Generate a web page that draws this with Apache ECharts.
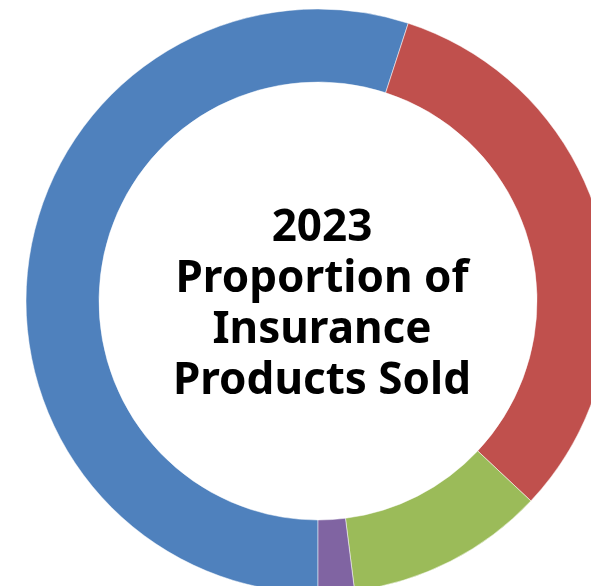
<!DOCTYPE html>
<html>
<head>
<meta charset="utf-8">
<script src="https://cdn.jsdelivr.net/npm/echarts@6/dist/echarts.min.js"></script>
<style>
  html, body { margin: 0; padding: 0; background: #fff; }
  #chart { width: 591px; height: 586px; }
</style>
</head>
<body>
<div id="chart"></div>
<script>
const categories = ["Life", "Health", "Property", "Other"];
const shares = [55, 32, 11, 2];
const colors = ["#4F81BD", "#C0504D", "#9BBB59", "#8064A2"];
const titleLines = ["2023", "Proportion of", "Insurance", "Products Sold"];

var chart = echarts.init(document.getElementById("chart"));
const option = {
  animation: false,
  title: {
    text: titleLines.join("\n"),
    left: 317,
    top: 300,
    textAlign: "center",
    textVerticalAlign: "middle",
    textStyle: {
      fontFamily: "Noto Sans",
      fontWeight: "bold",
      fontSize: 44,
      lineHeight: 51,
      color: "#000",
    },
  },
  series: [
    {
      type: "pie",
      center: [318, 301],
      radius: [219, 292],
      startAngle: -90,
      clockwise: true,
      label: { show: false },
      labelLine: { show: false },
      itemStyle: {
        borderColor: "#fff",
        borderWidth: 0.5,
      },
      data: categories.map((name, i) => ({
        name: name,
        value: shares[i],
        itemStyle: { color: colors[i] },
      })),
    },
  ],
};
chart.setOption(option);
</script>
</body>
</html>
